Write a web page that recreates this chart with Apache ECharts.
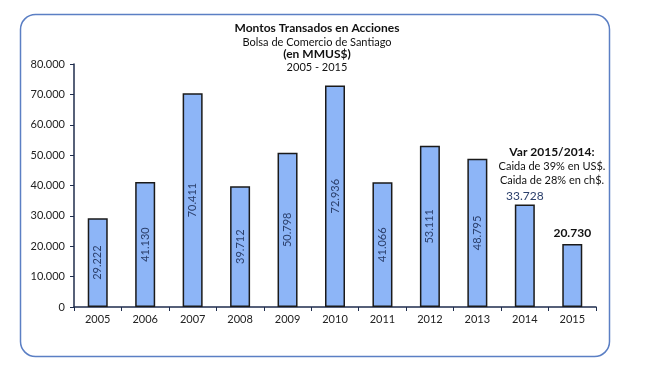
<!DOCTYPE html>
<html>
<head>
<meta charset="UTF-8">
<title>Montos Transados en Acciones</title>
<script src="https://cdn.jsdelivr.net/npm/echarts@6/dist/echarts.min.js"></script>
<style>
  html, body { margin: 0; padding: 0; background: #fff; }
  #container { width: 668px; height: 376px; }
</style>
</head>
<body>
<div id="container"></div>
<script>
// datos del grafico
var years = ['2005', '2006', '2007', '2008', '2009', '2010', '2011', '2012', '2013', '2014', '2015'];
var montos = [29222, 41130, 70411, 39712, 50798, 72936, 41066, 53111, 48795, 33728, 20730];
var yTicks = [0, 10000, 20000, 30000, 40000, 50000, 60000, 70000, 80000];
var titulos = ['Montos Transados en Acciones', 'Bolsa de Comercio de Santiago', '(en MMUS$)', '2005 - 2015'];
var notaVar = ['Var 2015/2014:', 'Caida de 39% en US$.', 'Caida de 28% en ch$.'];

var font = 'Lato, "Open Sans", sans-serif';

// separador de miles con punto
function fmt(v) {
    return String(v).replace(/\B(?=(\d{3})+(?!\d))/g, '.');
}

// texto centrado en (x, y)
function txt(s, x, y, f) {
    return {
        type: 'text', x: x, y: y,
        style: { text: s, font: f + ' ' + font, fill: '#111', textAlign: 'center', textVerticalAlign: 'middle' }
    };
}

var barData = montos.map(function (v, i) {
    var item = { value: v };
    if (i === montos.length - 2) {
        item.label = { rotate: 0, position: 'top', distance: 2, fontSize: 12, color: '#2b3f6b' };
    } else if (i === montos.length - 1) {
        item.label = { rotate: 0, position: 'top', distance: 5, fontSize: 12, fontWeight: 'bold', color: '#111' };
    }
    return item;
});

var myChart = echarts.init(document.getElementById('container'));

var option = {
    animation: false,
    textStyle: { fontFamily: font },
    graphic: [
        {
            type: 'rect',
            shape: { x: 20.5, y: 14.5, width: 589, height: 342, r: 15 },
            style: { fill: 'none', stroke: '#5b7fc4', lineWidth: 1.5 }
        },
        txt(titulos[0], 317, 28, 'bold 12px'),
        txt(titulos[1], 317, 42, '11px'),
        txt(titulos[2], 317, 54, 'bold 12px'),
        txt(titulos[3], 317, 67, '11px'),
        txt(notaVar[0], 552, 152, 'bold 12px'),
        txt(notaVar[1], 552, 166, '11px'),
        txt(notaVar[2], 552, 180, '11px')
    ],
    grid: { left: 74, right: 72, top: 64, bottom: 69 },
    xAxis: {
        type: 'category',
        data: years,
        axisLine: { lineStyle: { color: '#1f2d4d', width: 1.5 } },
        axisTick: { show: true, length: 4, lineStyle: { color: '#1f2d4d' } },
        axisLabel: { color: '#222', fontSize: 11, margin: 7 }
    },
    yAxis: {
        type: 'value',
        min: yTicks[0],
        max: yTicks[yTicks.length - 1],
        interval: 10000,
        splitLine: { show: false },
        axisLine: { show: true, lineStyle: { color: '#1f2d4d', width: 1.5 } },
        axisTick: { show: true, length: 4, lineStyle: { color: '#1f2d4d' } },
        axisLabel: {
            color: '#222', fontSize: 11, margin: 9,
            formatter: function (v) { return fmt(v); }
        }
    },
    series: [
        {
            type: 'bar',
            data: barData,
            barWidth: 20,
            itemStyle: { color: '#8db5f7', borderColor: '#1a1a1a', borderWidth: 1.5 },
            label: {
                show: true,
                position: 'inside',
                rotate: 90,
                fontSize: 11,
                color: '#2b3f6b',
                formatter: function (p) { return fmt(p.value); }
            }
        }
    ]
};

myChart.setOption(option);
</script>
</body>
</html>
